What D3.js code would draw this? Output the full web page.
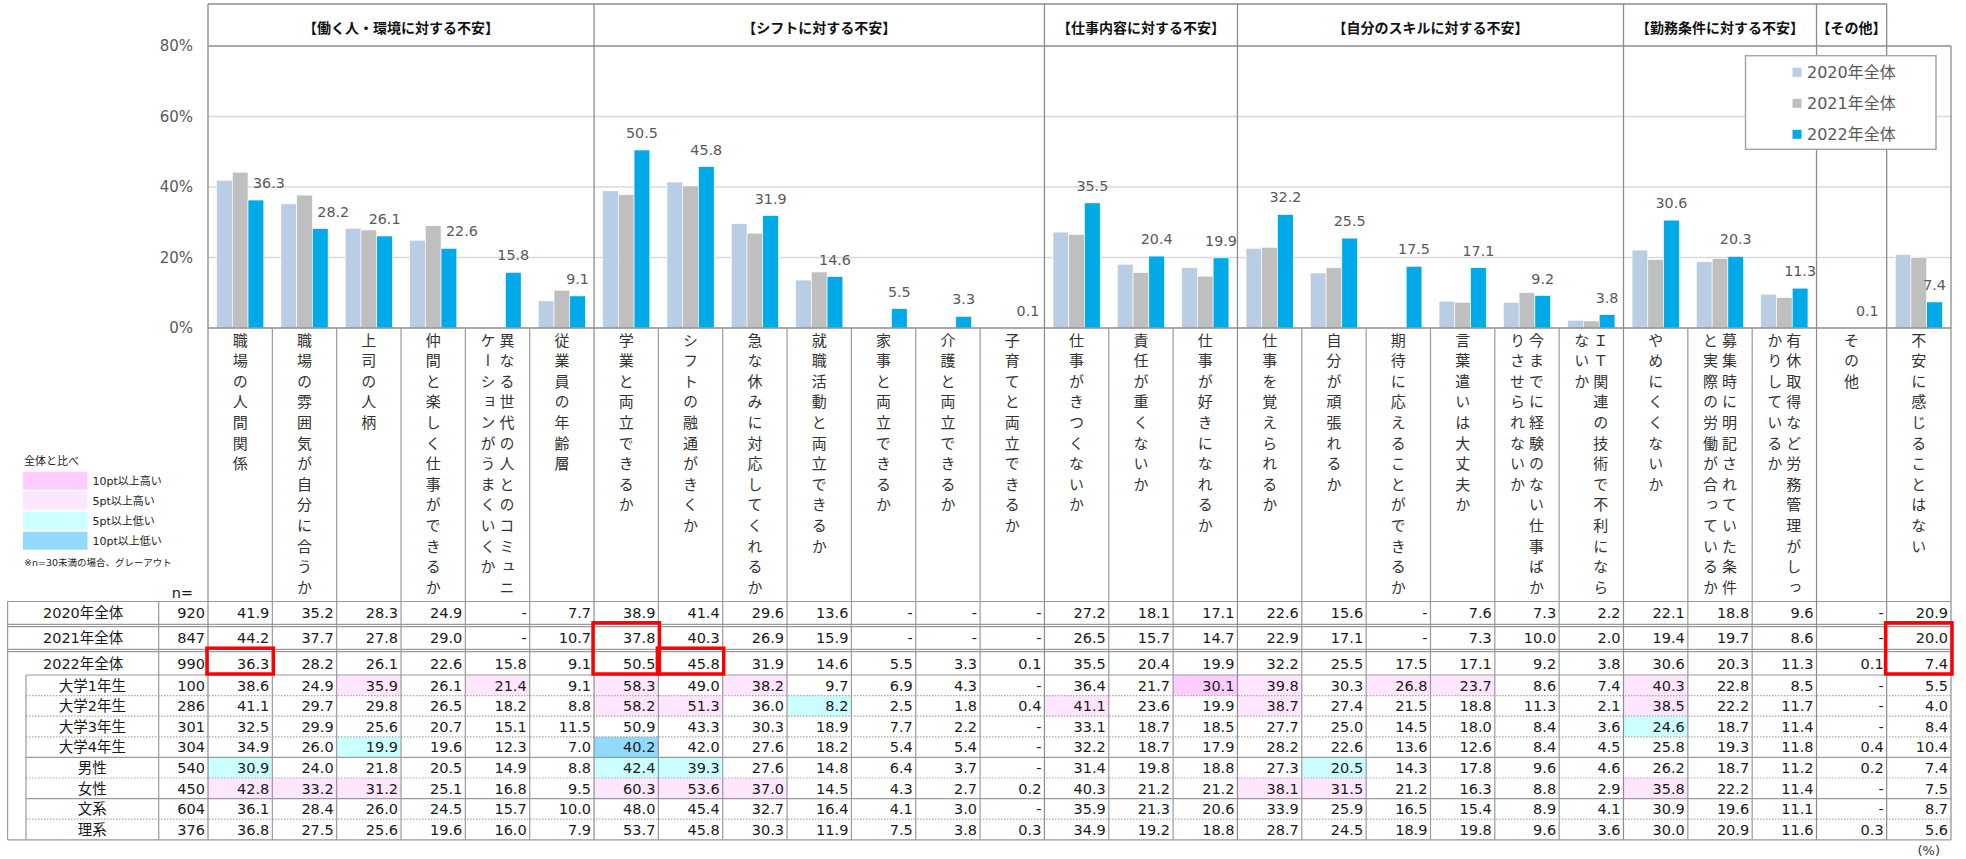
<!DOCTYPE html>
<html>
<head>
<meta charset="utf-8">
<script src="https://cdn.jsdelivr.net/npm/d3@7"></script>
<style>
  body { margin: 0; background: #fff; }
  svg text { font-family: "DejaVu Sans", "Noto Sans CJK JP", sans-serif; }
  svg text.jp { font-family: "Noto Sans CJK JP", sans-serif; }
</style>
</head>
<body>
<svg id="chart" width="1966" height="859"></svg>
<script>
// ---- data ----
const sections = [
  { name: "【働く人・環境に対する不安】", count: 6 },
  { name: "【シフトに対する不安】", count: 7 },
  { name: "【仕事内容に対する不安】", count: 3 },
  { name: "【自分のスキルに対する不安】", count: 6 },
  { name: "【勤務条件に対する不安】", count: 3 },
  { name: "【その他】", count: 1 },
  { name: "", count: 1 }
];

const categories = [
  "職場の人間関係",
  "職場の雰囲気が自分に合うか",
  "上司の人柄",
  "仲間と楽しく仕事ができるか",
  "異なる世代の人とのコミュニケーションがうまくいくか",
  "従業員の年齢層",
  "学業と両立できるか",
  "シフトの融通がきくか",
  "急な休みに対応してくれるか",
  "就職活動と両立できるか",
  "家事と両立できるか",
  "介護と両立できるか",
  "子育てと両立できるか",
  "仕事がきつくないか",
  "責任が重くないか",
  "仕事が好きになれるか",
  "仕事を覚えられるか",
  "自分が頑張れるか",
  "期待に応えることができるか",
  "言葉遣いは大丈夫か",
  "今までに経験のない仕事ばかりさせられないか",
  "ＩＴ関連の技術で不利にならないか",
  "やめにくくないか",
  "募集時に明記されていた条件と実際の労働が合っているか",
  "有休取得など労務管理がしっかりしているか",
  "その他",
  "不安に感じることはない"
];

const series = ["2020年全体", "2021年全体", "2022年全体"];
const seriesColors = ["#b9cde5", "#bfbfbf", "#00aae9"];

const _ = null; // not asked that year
const values2020 = [41.9, 35.2, 28.3, 24.9, _, 7.7, 38.9, 41.4, 29.6, 13.6, _, _, _, 27.2, 18.1, 17.1, 22.6, 15.6, _, 7.6, 7.3, 2.2, 22.1, 18.8, 9.6, _, 20.9];
const values2021 = [44.2, 37.7, 27.8, 29.0, _, 10.7, 37.8, 40.3, 26.9, 15.9, _, _, _, 26.5, 15.7, 14.7, 22.9, 17.1, _, 7.3, 10.0, 2.0, 19.4, 19.7, 8.6, _, 20.0];
const values2022 = [36.3, 28.2, 26.1, 22.6, 15.8, 9.1, 50.5, 45.8, 31.9, 14.6, 5.5, 3.3, 0.1, 35.5, 20.4, 19.9, 32.2, 25.5, 17.5, 17.1, 9.2, 3.8, 30.6, 20.3, 11.3, 0.1, 7.4];

const subRowLabels = ["大学1年生", "大学2年生", "大学3年生", "大学4年生", "男性", "女性", "文系", "理系"];
const subRowGroups = ["grade", "grade", "grade", "grade", "gender", "gender", "major", "major"];
const totalN = [920, 847, 990];
const subRowN = [100, 286, 301, 304, 540, 450, 604, 376];
const subRowValues = [
  [38.6, 24.9, 35.9, 26.1, 21.4, 9.1, 58.3, 49.0, 38.2, 9.7, 6.9, 4.3, _, 36.4, 21.7, 30.1, 39.8, 30.3, 26.8, 23.7, 8.6, 7.4, 40.3, 22.8, 8.5, _, 5.5],
  [41.1, 29.7, 29.8, 26.5, 18.2, 8.8, 58.2, 51.3, 36.0, 8.2, 2.5, 1.8, 0.4, 41.1, 23.6, 19.9, 38.7, 27.4, 21.5, 18.8, 11.3, 2.1, 38.5, 22.2, 11.7, _, 4.0],
  [32.5, 29.9, 25.6, 20.7, 15.1, 11.5, 50.9, 43.3, 30.3, 18.9, 7.7, 2.2, _, 33.1, 18.7, 18.5, 27.7, 25.0, 14.5, 18.0, 8.4, 3.6, 24.6, 18.7, 11.4, _, 8.4],
  [34.9, 26.0, 19.9, 19.6, 12.3, 7.0, 40.2, 42.0, 27.6, 18.2, 5.4, 5.4, _, 32.2, 18.7, 17.9, 28.2, 22.6, 13.6, 12.6, 8.4, 4.5, 25.8, 19.3, 11.8, 0.4, 10.4],
  [30.9, 24.0, 21.8, 20.5, 14.9, 8.8, 42.4, 39.3, 27.6, 14.8, 6.4, 3.7, _, 31.4, 19.8, 18.8, 27.3, 20.5, 14.3, 17.8, 9.6, 4.6, 26.2, 18.7, 11.2, 0.2, 7.4],
  [42.8, 33.2, 31.2, 25.1, 16.8, 9.5, 60.3, 53.6, 37.0, 14.5, 4.3, 2.7, 0.2, 40.3, 21.2, 21.2, 38.1, 31.5, 21.2, 16.3, 8.8, 2.9, 35.8, 22.2, 11.4, _, 7.5],
  [36.1, 28.4, 26.0, 24.5, 15.7, 10.0, 48.0, 45.4, 32.7, 16.4, 4.1, 3.0, _, 35.9, 21.3, 20.6, 33.9, 25.9, 16.5, 15.4, 8.9, 4.1, 30.9, 19.6, 11.1, _, 8.7],
  [36.8, 27.5, 25.6, 19.6, 16.0, 7.9, 53.7, 45.8, 30.3, 11.9, 7.5, 3.8, 0.3, 34.9, 19.2, 18.8, 28.7, 24.5, 18.9, 19.8, 9.6, 3.6, 30.0, 20.9, 11.6, 0.3, 5.6]
];

const yTicks = [0, 20, 40, 60, 80];

// comparison bands against the 2022 total
const diffBands = [
  { label: "10pt以上高い", color: "#ffccff" },
  { label: "5pt以上高い", color: "#ffe6ff" },
  { label: "5pt以上低い", color: "#ccffff" },
  { label: "10pt以上低い", color: "#93d8fd" }
];

// emphasised cells (table row range, column)
const emphasis = [
  { rows: [2, 2], col: 0 },
  { rows: [1, 2], col: 6 },
  { rows: [2, 2], col: 7 },
  { rows: [1, 2], col: 26 }
];

// ---- layout ----
const svg = d3.select("#chart");
const plotL = 208, plotR = 1951, plotT = 46, plotB = 328, headT = 4;
const tableL = 7.6, subL = 26, nL = 158.7;
const gridGray = "#d9d9d9", lineGray = "#8c8c8c", tableGray = "#9a9a9a";

// column widths in units; the single-item "その他" column is a little wider
const colUnits = categories.map(c => (c === "その他" ? 1.09 : 1));
const colEdges = [0];
colUnits.forEach(u => colEdges.push(colEdges[colEdges.length - 1] + u));
const xu = d3.scaleLinear().domain([0, colEdges[colEdges.length - 1]]).range([plotL, plotR]);
const colX0 = i => xu(colEdges[i]);
const colW = i => xu(colEdges[i + 1]) - xu(colEdges[i]);
const colC = i => colX0(i) + colW(i) / 2;

const y = d3.scaleLinear().domain([0, 80]).range([plotB, plotT]);
const inner = d3.scaleBand().domain(series).range([-23.6, 23.6]);

// table rows: three total rows, then the breakdown rows
const tableRows = [
  { label: series[0], n: totalN[0], vals: values2020, sub: false },
  { label: series[1], n: totalN[1], vals: values2021, sub: false },
  { label: series[2], n: totalN[2], vals: values2022, sub: false },
  ...subRowLabels.map((l, k) => ({ label: l, n: subRowN[k], vals: subRowValues[k], sub: true, group: subRowGroups[k] }))
];
const rowTop = [601.5, 626.7, 651.7];
const rowBot = [624.3, 649.3, 675];
const subH = 20.6;
subRowLabels.forEach((l, k) => { rowTop.push(675 + k * subH); rowBot.push(675 + (k + 1) * subH); });

// ---- gridlines ----
svg.append("g").selectAll("line").data(yTicks.filter(t => t > 0 && t < 80)).join("line")
  .attr("x1", plotL).attr("x2", plotR)
  .attr("y1", d => y(d)).attr("y2", d => y(d))
  .attr("stroke", gridGray).attr("stroke-width", 1.3);

// ---- bars ----
const barG = svg.append("g");
series.forEach((s, si) => {
  const vals = [values2020, values2021, values2022][si];
  barG.append("g").selectAll("rect")
    .data(vals.map((v, i) => ({ v, i })).filter(d => d.v != null)).join("rect")
    .attr("x", d => colC(d.i) + inner(s))
    .attr("width", inner.bandwidth())
    .attr("y", d => y(d.v))
    .attr("height", d => plotB - y(d.v))
    .attr("fill", seriesColors[si])
    .attr("stroke", "#ffffff").attr("stroke-width", 0.6);
});

// value labels for 2022, nudged right if the 2021 bar would run into them
const labelG = svg.append("g");
values2022.forEach((v, i) => {
  const txt = v.toFixed(1);
  const prev = values2021[i];
  const clash = prev != null && y(prev) < y(v) - 12 && txt.length >= 4;
  labelG.append("text")
    .attr("x", colC(i) + inner(series[2]) + inner.bandwidth() / 2 + (clash ? 13 : 0))
    .attr("y", y(v) - 12)
    .attr("text-anchor", "middle")
    .attr("font-size", 14.3)
    .attr("fill", "#595959")
    .text(txt);
});

// ---- y axis labels ----
svg.append("g").selectAll("text").data(yTicks).join("text")
  .attr("x", 193).attr("y", d => y(d)).attr("dy", "0.36em")
  .attr("text-anchor", "end").attr("font-size", 15).attr("fill", "#595959")
  .text(d => d + "%");

// ---- section headers and frame ----
const bounds = [0];
sections.forEach(s => bounds.push(bounds[bounds.length - 1] + s.count));
const frameG = svg.append("g").attr("stroke", lineGray).attr("stroke-width", 1.3).attr("fill", "none");
const headR = colX0(bounds[bounds.length - 2]);
frameG.append("line").attr("x1", plotL).attr("x2", headR).attr("y1", headT).attr("y2", headT);
frameG.append("line").attr("x1", plotL).attr("x2", plotR).attr("y1", plotT).attr("y2", plotT);
frameG.append("line").attr("x1", plotL).attr("x2", plotR).attr("y1", plotB).attr("y2", plotB);
bounds.forEach((b, k) => {
  const xx = colX0(b);
  const top = k === bounds.length - 1 ? plotT : headT;
  frameG.append("line").attr("x1", xx).attr("x2", xx).attr("y1", top).attr("y2", plotB);
});
svg.append("g").selectAll("text").data(sections.map((s, k) => ({ s, k })).filter(d => d.s.name)).join("text")
  .attr("class", "jp")
  .attr("x", d => (colX0(bounds[d.k]) + colX0(bounds[d.k + 1])) / 2)
  .attr("y", 33)
  .attr("text-anchor", "middle").attr("font-size", 14).attr("font-weight", "bold").attr("fill", "#111")
  .text(d => d.s.name);

// ---- legend (series) ----
const lg = svg.append("g").attr("transform", "translate(1745.5,55.7)");
lg.append("rect").attr("width", 190.5).attr("height", 93.6).attr("fill", "#fff")
  .attr("stroke", "#a6a6a6").attr("stroke-width", 1.5);
series.forEach((s, si) => {
  const cy = 16.6 + si * 31;
  lg.append("rect").attr("x", 47).attr("y", cy - 4.5).attr("width", 9).attr("height", 9).attr("fill", seriesColors[si]);
  lg.append("text").attr("x", 61.5).attr("y", cy).attr("dy", "0.36em").attr("font-size", 16).attr("fill", "#595959").text(s);
});

// ---- vertical category labels ----
const catG = svg.append("g");
const perCol = 13, colPitch = 19, charPitch = 20.6, firstChar = 340;
categories.forEach((c, i) => {
  const chars = Array.from(c);
  const cols = [];
  for (let k = 0; k < chars.length; k += perCol) cols.push(chars.slice(k, k + perCol));
  cols.forEach((colChars, ci) => {
    const cx = colC(i) + ((cols.length - 1) / 2 - ci) * colPitch;
    colChars.forEach((ch, j) => {
      catG.append("text").attr("class", "jp")
        .attr("x", cx).attr("y", firstChar + j * charPitch)
        .attr("text-anchor", "middle")
        .style("writing-mode", "vertical-rl")
        .attr("font-size", 15).attr("fill", "#333")
        .text(ch);
    });
  });
});

// ---- table ----
const tG = svg.append("g");
const tableTop = rowTop[0], tableBot = rowBot[rowBot.length - 1];

// shaded cells for the breakdown rows
tableRows.forEach((r, ri) => {
  if (!r.sub) return;
  r.vals.forEach((v, ci) => {
    const base = values2022[ci];
    if (v == null || base == null) return;
    const d = Math.round((v - base) * 10) / 10;
    let band = null;
    if (d >= 10) band = diffBands[0];
    else if (d >= 5) band = diffBands[1];
    else if (d <= -10) band = diffBands[3];
    else if (d <= -5) band = diffBands[2];
    if (band) tG.append("rect")
      .attr("x", colX0(ci)).attr("y", rowTop[ri])
      .attr("width", colW(ci)).attr("height", rowBot[ri] - rowTop[ri])
      .attr("fill", band.color);
  });
});

const tl = tG.append("g").attr("stroke", tableGray).attr("stroke-width", 1.2).attr("fill", "none");
// horizontal rules
tl.append("line").attr("x1", tableL).attr("x2", plotR).attr("y1", tableTop).attr("y2", tableTop);
[0, 1].forEach(ri => {
  [rowBot[ri], rowTop[ri + 1]].forEach(yy =>
    tl.append("line").attr("x1", tableL).attr("x2", plotR).attr("y1", yy).attr("y2", yy));
});
tl.append("line").attr("x1", subL).attr("x2", plotR).attr("y1", rowBot[2]).attr("y2", rowBot[2]);
for (let ri = 3; ri < tableRows.length - 1; ri++) {
  const sameGroup = tableRows[ri].group === tableRows[ri + 1].group;
  const ln = tl.append("line").attr("x1", subL).attr("x2", plotR).attr("y1", rowBot[ri]).attr("y2", rowBot[ri]);
  if (sameGroup) ln.attr("stroke-dasharray", "1.5,1.5").attr("stroke", "#a8a8a8");
}
tl.append("line").attr("x1", tableL).attr("x2", plotR).attr("y1", tableBot).attr("y2", tableBot);
// vertical rules
tl.append("line").attr("x1", tableL).attr("x2", tableL).attr("y1", tableTop).attr("y2", tableBot);
tl.append("line").attr("x1", subL).attr("x2", subL).attr("y1", rowBot[2]).attr("y2", tableBot);
tl.append("line").attr("x1", nL).attr("x2", nL).attr("y1", tableTop).attr("y2", tableBot);
d3.range(categories.length + 1).forEach(ci => {
  const xx = colX0(ci);
  const isSec = bounds.includes(ci);
  tl.append("line").attr("x1", xx).attr("x2", xx)
    .attr("y1", plotB).attr("y2", tableBot)
    .attr("stroke", isSec || ci === 0 ? lineGray : tableGray);
});

// row labels, n and values
tableRows.forEach((r, ri) => {
  const cy = (rowTop[ri] + rowBot[ri]) / 2;
  tG.append("text").attr("x", r.sub ? (subL + nL) / 2 : (tableL + nL) / 2).attr("y", cy).attr("dy", "0.36em")
    .attr("text-anchor", "middle").attr("font-size", 14.5).attr("fill", "#1a1a1a").text(r.label);
  tG.append("text").attr("x", plotL - 3).attr("y", cy).attr("dy", "0.36em")
    .attr("text-anchor", "end").attr("font-size", 14.5).attr("fill", "#1a1a1a").text(r.n);
  tG.append("g").selectAll("text").data(r.vals).join("text")
    .attr("x", (d, ci) => colX0(ci + 1) - 3).attr("y", cy).attr("dy", "0.36em")
    .attr("text-anchor", "end").attr("font-size", 14.5).attr("fill", "#1a1a1a")
    .text(d => d == null ? "-" : d.toFixed(1));
});

// emphasis frames
const emTop = d => (d.rows[0] === 1 ? rowBot[0] - 1.5 : rowTop[d.rows[0]] - 3.5);
tG.append("g").selectAll("rect").data(emphasis).join("rect")
  .attr("x", d => colX0(d.col) - 1)
  .attr("y", emTop)
  .attr("width", d => colW(d.col) + 2)
  .attr("height", d => rowBot[d.rows[1]] - 1 - emTop(d))
  .attr("fill", "none").attr("stroke", "#ff0000").attr("stroke-width", 3.5);

svg.append("text").attr("x", 193).attr("y", 593).attr("dy", "0.36em").attr("text-anchor", "end")
  .attr("font-size", 14.5).attr("fill", "#1a1a1a").text("n=");
svg.append("text").attr("x", 1940).attr("y", 850).attr("dy", "0.36em").attr("text-anchor", "end")
  .attr("font-size", 13).attr("fill", "#333").text("(%)");

// ---- comparison key ----
const kg = svg.append("g").attr("transform", "translate(23,0)");
kg.append("text").attr("x", 1).attr("y", 461).attr("dy", "0.36em").attr("font-size", 11).attr("fill", "#222").text("全体と比べ");
diffBands.forEach((b, k) => {
  const top = 471.7 + k * 20;
  kg.append("rect").attr("x", 0).attr("y", top).attr("width", 64.5).attr("height", 18).attr("fill", b.color);
  kg.append("text").attr("x", 69.5).attr("y", top + 9).attr("dy", "0.36em").attr("font-size", 11).attr("fill", "#222").text(b.label);
});
kg.append("text").attr("x", 1).attr("y", 563).attr("dy", "0.36em").attr("font-size", 9.5).attr("fill", "#222")
  .text("※n=30未満の場合、グレーアウト");
</script>
</body>
</html>
